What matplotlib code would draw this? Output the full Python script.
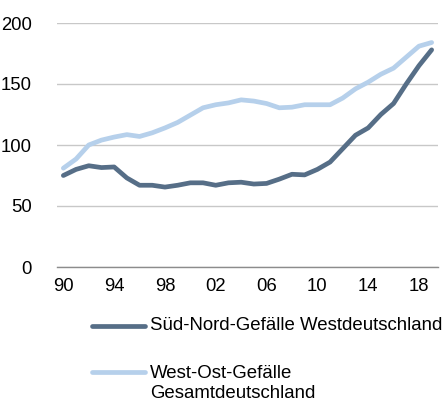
import matplotlib
matplotlib.use("Agg")
import matplotlib.pyplot as plt
from matplotlib.lines import Line2D

plt.rcParams['font.family'] = ['Liberation Sans', 'DejaVu Sans']

years = list(range(1990, 2020))
sued_nord = [75, 80, 83, 81.5, 82, 73, 67, 67, 65.5, 67, 69, 69, 67, 69, 69.5, 68, 68.5, 72, 76, 75.5,
             80, 86, 97, 108, 114, 125, 134, 150, 165, 178]
west_ost = [81, 88.5, 100, 104, 106.5, 108.5, 107, 110, 114, 118.5, 124.5, 130.5, 133, 134.5, 137, 136,
            134, 130.5, 131, 133, 133, 133, 138.5, 146, 151.5, 158, 163, 172, 181, 184]
label1 = "Süd-Nord-Gefälle Westdeutschland"
label2 = "West-Ost-Gefälle\nGesamtdeutschland"
xticks = [1990, 1994, 1998, 2002, 2006, 2010, 2014, 2018]
xticklabels = ["90", "94", "98", "02", "06", "10", "14", "18"]
yticks = [0, 50, 100, 150, 200]

dark = "#566e87"
light = "#b6d0eb"
LW = 3.4

fig = plt.figure(figsize=(4.46, 4.01), dpi=100)
ax = fig.add_axes([57/446, 134/401, 381/446, 244/401])

ax.plot(years, west_ost, color=light, lw=LW, solid_capstyle='round', solid_joinstyle='round', zorder=3)
ax.plot(years, sued_nord, color=dark, lw=LW, solid_capstyle='round', solid_joinstyle='round', zorder=4)

ax.set_xlim(1989.5, 2019.5)
ax.set_ylim(0, 200)
ax.set_yticks(yticks)
ax.set_xticks(xticks)
ax.set_xticklabels(xticklabels)
for s in ['left', 'right', 'top']:
    ax.spines[s].set_visible(False)
ax.spines['bottom'].set_color('#8c8c8c')
ax.spines['bottom'].set_linewidth(1)
ax.grid(axis='y', color='#c8c8c8', lw=1)
ax.set_axisbelow(True)
ax.tick_params(axis='both', length=0, labelsize=13.3, colors='black')
ax.tick_params(axis='y', pad=18)
ax.tick_params(axis='x', pad=8)

# legend
y1 = (401 - 326) / 401
y2 = (401 - 372) / 401
x0, x1 = 92/446, 145/446
fig.add_artist(Line2D([x0, x1], [y1, y1], color=dark, lw=LW, solid_capstyle='round', transform=fig.transFigure))
fig.add_artist(Line2D([x0, x1], [y2, y2], color=light, lw=LW, solid_capstyle='round', transform=fig.transFigure))
fig.text(150/446, y1, label1, fontsize=13.4, va='center', ha='left')
fig.text(150/446, y2 + 7/401, label2, fontsize=13.4, va='top', ha='left', linespacing=1.2)

fig.savefig("out.png", dpi=100)
